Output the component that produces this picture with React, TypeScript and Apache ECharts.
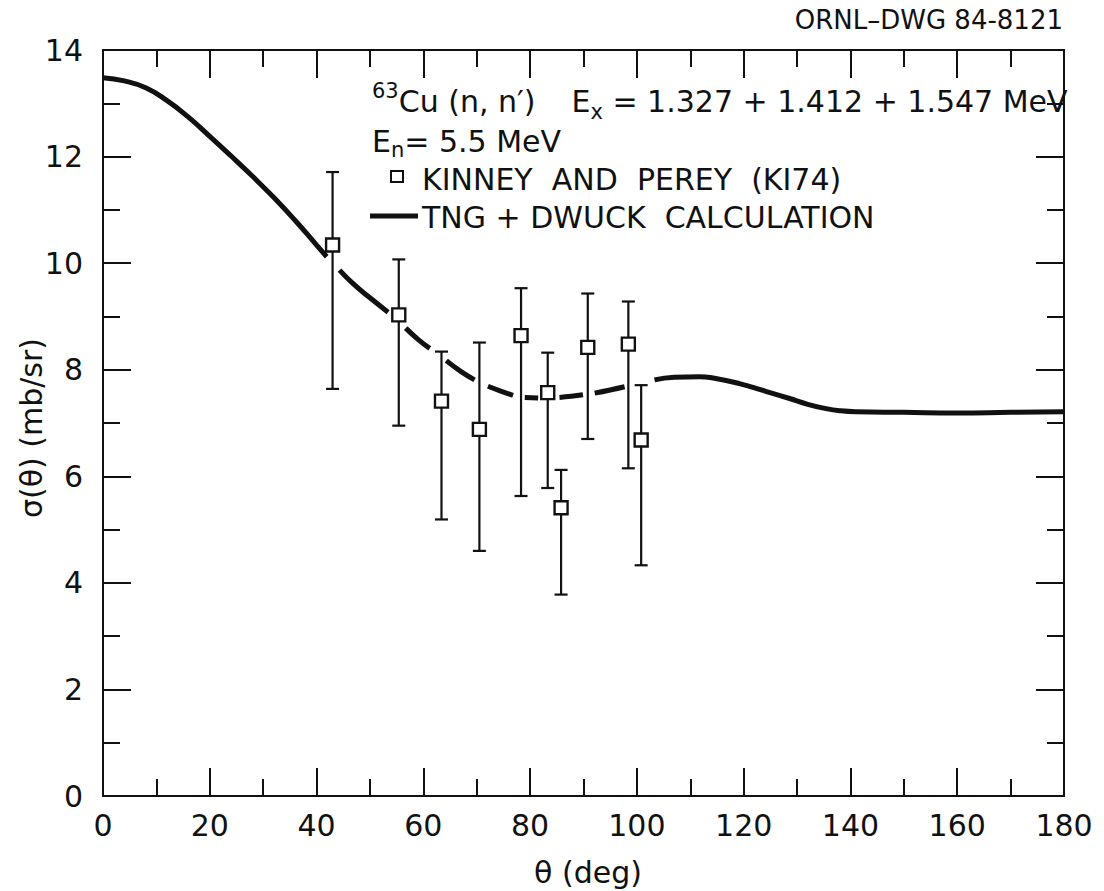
import React, { useEffect, useRef } from "react";
import * as echarts from "echarts";

// Kinney & Perey (KI74) measured cross sections: angle (deg), value and error-bar limits (mb/sr)
const angles = [43.0, 55.4, 63.4, 70.5, 78.3, 83.3, 85.8, 90.8, 98.4, 100.8];
const sigma = [10.34, 9.03, 7.41, 6.88, 8.64, 7.57, 5.41, 8.42, 8.48, 6.68];
const sigmaLow = [7.64, 6.95, 5.19, 4.6, 5.63, 5.78, 3.78, 6.7, 6.15, 4.33];
const sigmaHigh = [11.71, 10.07, 8.34, 8.51, 9.53, 8.32, 6.12, 9.43, 9.28, 7.71];

// TNG + DWUCK calculation, drawn as pieces broken where the error bars cross it
const calcSegments: number[][][] = [
  [
    [0, 13.48], [4, 13.42], [8, 13.29], [12, 13.05], [16, 12.74], [20, 12.38],
    [24, 12.01], [28, 11.63], [32, 11.23], [36, 10.8], [40, 10.34], [41.9, 10.12],
  ],
  [[44.3, 9.87], [47, 9.6], [50, 9.35], [53.4, 9.08]],
  [[56.7, 8.78], [59, 8.57], [61.2, 8.4]],
  [[64.3, 8.17], [67, 7.97], [69.6, 7.81]],
  [[72.1, 7.69], [74.5, 7.6], [76.8, 7.52]],
  [[79.0, 7.48], [81.5, 7.47]],
  [[85.5, 7.48], [87.7, 7.5], [89.9, 7.53]],
  [[92.1, 7.56], [95, 7.62], [97.7, 7.68]],
  [
    [103.3, 7.81], [107, 7.86], [111.7, 7.87], [115, 7.83], [119.2, 7.74],
    [124, 7.6], [128.6, 7.46], [132, 7.35], [135.4, 7.27], [138, 7.23],
    [141, 7.21], [150, 7.2], [160, 7.19], [170, 7.2], [180, 7.21],
  ],
];

const xRange = [0, 180];
const xStep = 20;
const yRange = [0, 14];
const yStep = 2;

const FONT = "DejaVu Sans";
const INK = "#111";

export default function App() {
  const ref = useRef<HTMLDivElement>(null);

  useEffect(() => {
    if (!ref.current) return;
    const chart = echarts.init(ref.current, null, { renderer: "svg" });

    const frameAxis = {
      type: "value" as const,
      axisLine: { show: true, onZero: false, lineStyle: { color: INK, width: 2 } },
      axisTick: { show: true, inside: true, length: 28, lineStyle: { color: INK, width: 2 } },
      minorTick: { show: true, splitNumber: 2, length: 17, lineStyle: { color: INK, width: 2 } },
      splitLine: { show: false },
      minorSplitLine: { show: false },
    };
    const tickLabel = { fontSize: 30, fontFamily: FONT, color: INK };

    const errorData = angles.map((a, i) => [a, sigmaLow[i], sigmaHigh[i]]);
    const pointData = angles.map((a, i) => [a, sigma[i]]);

    const calcSeries = calcSegments.map((seg) => ({
      type: "line",
      data: seg,
      smooth: true,
      symbol: "none",
      lineStyle: { color: INK, width: 5 },
      z: 2,
    }));

    const rich1 = {
      sup: { fontSize: 21, fontFamily: FONT, fill: INK, lineHeight: 16, verticalAlign: "top" },
      b: { fontSize: 30, fontFamily: FONT, fill: INK, lineHeight: 42 },
      sp: { fontSize: 30, fontFamily: FONT, fill: INK, lineHeight: 42, width: 36 },
      sub: { fontSize: 21, fontFamily: FONT, fill: INK, lineHeight: 16, verticalAlign: "bottom" },
    };
    const rich2 = {
      b: { fontSize: 30, fontFamily: FONT, fill: INK, lineHeight: 38 },
      sub: { fontSize: 21, fontFamily: FONT, fill: INK, lineHeight: 16, verticalAlign: "bottom" },
    };

    chart.setOption({
      animation: false,
      backgroundColor: "#fff",
      grid: { left: 103, right: 40, top: 50, bottom: 95, containLabel: false },
      xAxis: [
        {
          ...frameAxis,
          position: "bottom",
          min: xRange[0],
          max: xRange[1],
          interval: xStep,
          axisLabel: { ...tickLabel, margin: 14 },
        },
        {
          ...frameAxis,
          position: "top",
          min: xRange[0],
          max: xRange[1],
          interval: xStep,
          axisLabel: { show: false },
        },
      ],
      yAxis: [
        {
          ...frameAxis,
          position: "left",
          min: yRange[0],
          max: yRange[1],
          interval: yStep,
          axisLabel: { ...tickLabel, margin: 20 },
        },
        {
          ...frameAxis,
          position: "right",
          min: yRange[0],
          max: yRange[1],
          interval: yStep,
          axisLabel: { show: false },
        },
      ],
      series: [
        ...calcSeries,
        {
          type: "custom",
          data: errorData,
          encode: { x: 0, y: [1, 2] },
          z: 3,
          renderItem: (_params: any, api: any) => {
            const x = api.value(0);
            const lo = api.coord([x, api.value(1)]);
            const hi = api.coord([x, api.value(2)]);
            const w = 6.5;
            const st = { stroke: INK, lineWidth: 2.2 };
            return {
              type: "group",
              children: [
                { type: "line", shape: { x1: lo[0], y1: lo[1], x2: hi[0], y2: hi[1] }, style: st },
                { type: "line", shape: { x1: lo[0] - w, y1: lo[1], x2: lo[0] + w, y2: lo[1] }, style: st },
                { type: "line", shape: { x1: hi[0] - w, y1: hi[1], x2: hi[0] + w, y2: hi[1] }, style: st },
              ],
            };
          },
        },
        {
          type: "scatter",
          data: pointData,
          symbol: "rect",
          symbolSize: 13,
          itemStyle: { color: "#fff", borderColor: INK, borderWidth: 2.4, opacity: 1 },
          z: 4,
        },
      ],
      graphic: [
        {
          type: "text",
          x: 1063,
          y: 20,
          style: {
            text: "ORNL–DWG 84-8121",
            fontSize: 26,
            fontFamily: FONT,
            fill: INK,
            align: "right",
            verticalAlign: "middle",
          },
        },
        {
          type: "text",
          x: 372,
          y: 101,
          style: {
            text: "{sup|63}{b|Cu (n, n′)}{sp| }{b|E}{sub|x}{b| = 1.327 + 1.412 + 1.547 MeV}",
            verticalAlign: "middle",
            align: "left",
            rich: rich1,
          },
        },
        {
          type: "text",
          x: 372,
          y: 141,
          style: {
            text: "{b|E}{sub|n}{b|= 5.5 MeV}",
            verticalAlign: "middle",
            align: "left",
            rich: rich2,
          },
        },
        {
          type: "rect",
          shape: { x: 391, y: 171, width: 12, height: 11 },
          style: { fill: "#fff", stroke: INK, lineWidth: 2 },
        },
        {
          type: "text",
          x: 422,
          y: 179,
          style: {
            text: "KINNEY  AND  PEREY  (KI74)",
            fontSize: 30,
            fontFamily: FONT,
            fill: INK,
            verticalAlign: "middle",
          },
        },
        {
          type: "line",
          shape: { x1: 370, y1: 216, x2: 418, y2: 216 },
          style: { stroke: INK, lineWidth: 5 },
        },
        {
          type: "text",
          x: 422,
          y: 217,
          style: {
            text: "TNG + DWUCK  CALCULATION",
            fontSize: 30,
            fontFamily: FONT,
            fill: INK,
            verticalAlign: "middle",
          },
        },
        {
          type: "text",
          x: 31,
          y: 428,
          rotation: Math.PI / 2,
          style: {
            text: "σ(θ) (mb/sr)",
            fontSize: 30,
            fontFamily: FONT,
            fill: INK,
            align: "center",
            verticalAlign: "middle",
          },
        },
        {
          type: "text",
          x: 588,
          y: 872,
          style: {
            text: "θ (deg)",
            fontSize: 30,
            fontFamily: FONT,
            fill: INK,
            align: "center",
            verticalAlign: "middle",
          },
        },
      ],
    });

    return () => chart.dispose();
  }, []);

  return (
    <div
      ref={ref}
      style={{ position: "absolute", left: 0, top: 0, width: 1104, height: 891, background: "#fff" }}
    />
  );
}
